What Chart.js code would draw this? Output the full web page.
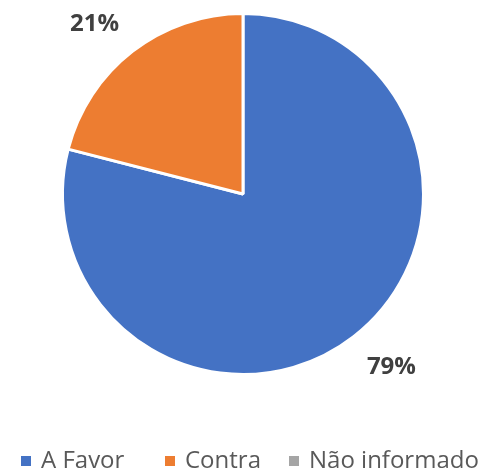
<!DOCTYPE html>
<html>
<head>
<meta charset="utf-8">
<script src="https://cdn.jsdelivr.net/npm/chart.js@4.4.1/dist/chart.umd.min.js"></script>
<style>
  html, body { margin: 0; padding: 0; background: #fff; overflow: hidden; }
  #wrap { position: relative; width: 484px; height: 472px; }
  #legend { position: absolute; left: 0; top: 444px; width: 484px; height: 30px;
            font-family: "Open Sans", sans-serif; font-size: 24px; color: #595959; }
  .legend-item { position: absolute; top: 0; white-space: nowrap; line-height: 30px; }
  .legend-box { display: inline-block; width: 10px; height: 10px; margin-right: 10px;
                vertical-align: middle; position: relative; top: -1px; }
</style>
</head>
<body>
<div id="wrap">
  <canvas id="pie" width="484" height="472"></canvas>
  <div id="legend"></div>
</div>
<script>
  "use strict";

  const categories = ["A Favor", "Contra", "Não informado"];
  const values = [79, 21, 0];
  const colors = ["#4472C4", "#ED7D31", "#A5A5A5"];
  const legendLeft = [21, 165, 289];

  // percentage labels placed outside the slices, like the office chart
  const outsideLabels = {
    id: "outsideLabels",
    afterDatasetsDraw(chart) {
      const {ctx} = chart;
      const meta = chart.getDatasetMeta(0);
      const total = values.reduce((a, b) => a + b, 0);
      ctx.save();
      ctx.font = "bold 24px 'Open Sans'";
      ctx.fillStyle = "#404040";
      ctx.textAlign = "center";
      ctx.textBaseline = "middle";
      meta.data.forEach((arc, i) => {
        if (!values[i]) return;
        const mid = (arc.startAngle + arc.endAngle) / 2 - 0.054;
        const d = arc.outerRadius * 1.256;
        const x = arc.x + Math.cos(mid) * d;
        const y = arc.y + Math.sin(mid) * d + 2;
        ctx.fillText(Math.round(values[i] / total * 100) + "%", x, y);
      });
      ctx.restore();
    },
  };

  new Chart(document.getElementById("pie"), {
    type: "pie",
    data: {
      labels: categories,
      datasets: [{
        data: values,
        backgroundColor: colors,
        borderColor: "#ffffff",
        borderWidth: 3,
      }],
    },
    options: {
      responsive: false,
      animation: false,
      layout: {padding: {top: 12, bottom: 96, left: 61, right: 59}},
      plugins: {
        tooltip: {enabled: false},
        legend: {display: false},
      },
    },
    plugins: [outsideLabels],
  });

  // html legend below the pie
  const legendEl = document.getElementById("legend");
  categories.forEach((name, i) => {
    const item = document.createElement("div");
    item.className = "legend-item";
    item.style.left = legendLeft[i] + "px";
    const box = document.createElement("span");
    box.className = "legend-box";
    box.style.background = colors[i];
    item.appendChild(box);
    item.appendChild(document.createTextNode(name));
    legendEl.appendChild(item);
  });
</script>
</body>
</html>
